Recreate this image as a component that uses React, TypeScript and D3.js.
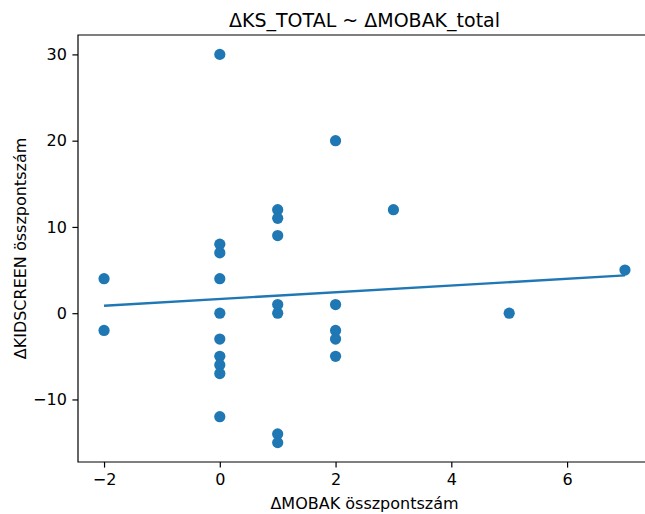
import React, { useRef, useEffect } from 'react';
import * as d3 from 'd3';

// ΔMOBAK (x) and ΔKIDSCREEN (y) per child
const mobak = [-2, -2, 0, 0, 0, 0, 0, 0, 0, 0, 0, 0, 1, 1, 1, 1, 1, 1, 1, 2, 2, 2, 2, 2, 3, 5, 7];
const kidscreen = [4, -2, 30, 8, 7, 4, 0, -3, -5, -6, -7, -12, 12, 11, 9, 1, 0, -14, -15, 20, 1, -2, -3, -5, 12, 0, 5];

// fitted line
const fitIntercept = 1.65;
const fitSlope = 0.39;

const xTicks = [-2, 0, 2, 4, 6];
const yTicks = [-10, 0, 10, 20, 30];

function App() {
  const ref = useRef<SVGSVGElement>(null);

  useEffect(() => {
    const width = 645;
    const height = 514;
    const left = 78;
    const right = 651; // the right spine falls just outside the picture
    const top = 35;
    const bottom = 462;
    const blue = '#1f77b4';
    const font = 'DejaVu Sans, sans-serif';
    const minus = (d: d3.NumberValue) => String(d).replace('-', '\u2212');

    const svg = d3.select(ref.current);
    svg.selectAll('*').remove();

    const x = d3.scaleLinear().domain([-2.45, 7.45]).range([left, right]);
    const y = d3.scaleLinear().domain([-17.25, 32.25]).range([bottom, top]);

    svg.append('rect')
      .attr('width', width).attr('height', height).attr('fill', 'white');

    // regression line
    const xs = d3.extent(mobak) as [number, number];
    const line = d3.line<number>()
      .x(d => x(d))
      .y(d => y(fitIntercept + fitSlope * d));
    svg.append('path')
      .attr('d', line(xs))
      .attr('fill', 'none')
      .attr('stroke', blue)
      .attr('stroke-width', 2.4);

    svg.append('g')
      .selectAll('circle')
      .data(mobak.map((m, i) => [m, kidscreen[i]]))
      .join('circle')
      .attr('cx', d => x(d[0]))
      .attr('cy', d => y(d[1]))
      .attr('r', 5.6)
      .attr('fill', blue);

    // spines: left, top, bottom (clipped at the picture edge)
    const edge = Math.min(right, width);
    svg.append('path')
      .attr('d', `M${edge},${top}H${left}V${bottom}H${edge}`)
      .attr('fill', 'none').attr('stroke', 'black').attr('stroke-width', 1.2);

    svg.append('g')
      .attr('transform', `translate(0,${bottom})`)
      .call(d3.axisBottom(x).tickValues(xTicks).tickSize(5.6).tickPadding(5.6).tickFormat(minus))
      .call(g => g.select('.domain').remove())
      .call(g => g.selectAll('line').attr('stroke-width', 1.2))
      .call(g => g.selectAll('text').attr('font-size', 16).attr('font-family', font).attr('fill', '#000'));

    svg.append('g')
      .attr('transform', `translate(${left},0)`)
      .call(d3.axisLeft(y).tickValues(yTicks).tickSize(5.6).tickPadding(5.6).tickFormat(minus))
      .call(g => g.select('.domain').remove())
      .call(g => g.selectAll('line').attr('stroke-width', 1.2))
      .call(g => g.selectAll('text').attr('font-size', 16).attr('font-family', font).attr('fill', '#000'));

    svg.append('text')
      .attr('x', (left + right) / 2).attr('y', 26.5)
      .attr('text-anchor', 'middle')
      .attr('font-family', font).attr('font-size', 19)
      .text('ΔKS_TOTAL ~ ΔMOBAK_total');

    svg.append('text')
      .attr('x', (left + right) / 2).attr('y', 509)
      .attr('text-anchor', 'middle')
      .attr('font-family', font).attr('font-size', 16)
      .text('ΔMOBAK összpontszám');

    svg.append('text')
      .attr('transform', `translate(26,${(top + bottom) / 2}) rotate(-90)`)
      .attr('text-anchor', 'middle')
      .attr('font-family', font).attr('font-size', 16)
      .text('ΔKIDSCREEN összpontszám');
  }, []);

  return (
    <svg ref={ref} width={645} height={514}
      style={{ position: 'absolute', left: 0, top: 0, display: 'block', overflow: 'hidden' }} />
  );
}

export default App;
